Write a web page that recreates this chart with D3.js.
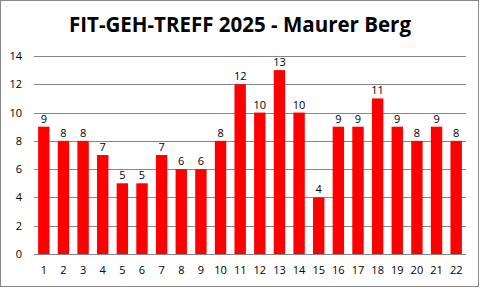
<!DOCTYPE html>
<head>
<meta charset="utf-8">
<style>
body { margin: 0; background: #fff; }
text { font-family: "Open Sans", "Liberation Sans", sans-serif; }
</style>
</head>
<body>
<div id='chart'></div>
<script src="https://cdnjs.cloudflare.com/ajax/libs/d3/7.8.5/d3.min.js"></script>
<script>
var titleText = 'FIT-GEH-TREFF 2025 - Maurer Berg';
var days = [1, 2, 3, 4, 5, 6, 7, 8, 9, 10, 11, 12, 13, 14, 15, 16, 17, 18, 19, 20, 21, 22];
var counts = [9, 8, 8, 7, 5, 5, 7, 6, 6, 8, 12, 10, 13, 10, 4, 9, 9, 11, 9, 8, 9, 8];
var yTicks = [0, 2, 4, 6, 8, 10, 12, 14];

var width = 481, height = 289;
var margin = {top: 56, right: 15, bottom: 35, left: 34};

var svg = d3.select('#chart').append('svg')
  .attr('width', width)
  .attr('height', height);

svg.append('rect')
  .attr('x', 0.5).attr('y', 0.5)
  .attr('width', width - 3).attr('height', height - 3)
  .attr('fill', '#fff')
  .attr('stroke', '#888')
  .attr('stroke-width', 1);

svg.append('text')
  .attr('x', 240)
  .attr('y', 32)
  .attr('text-anchor', 'middle')
  .attr('font-size', 21)
  .attr('font-weight', 'bold')
  .attr('textLength', 342)
  .attr('lengthAdjust', 'spacingAndGlyphs')
  .text(titleText);

var x = d3.scaleBand()
  .domain(days)
  .range([margin.left, width - margin.right])
  .paddingInner(0.42)
  .paddingOuter(0.21);

var y = d3.scaleLinear()
  .domain([0, 14])
  .range([254, margin.top]);

// grid
svg.append('g')
  .selectAll('line')
  .data(yTicks.slice(1))
  .enter().append('line')
  .attr('x1', margin.left)
  .attr('x2', width - margin.right)
  .attr('y1', function(d) { return Math.round(y(d)) + 0.5; })
  .attr('y2', function(d) { return Math.round(y(d)) + 0.5; })
  .attr('stroke', '#868686')
  .attr('stroke-width', 1);

// y axis labels
var yAxis = d3.axisLeft(y).tickValues(yTicks).tickSize(0).tickPadding(12);
var gy = svg.append('g')
  .attr('transform', 'translate(' + margin.left + ',0)')
  .call(yAxis);
gy.select('.domain').remove();
gy.selectAll('text')
  .attr('font-size', 11)
  .attr('fill', '#000')
  .style('font-family', '"Open Sans", "Liberation Sans", sans-serif');

// bars
svg.append('g')
  .selectAll('rect')
  .data(counts)
  .enter().append('rect')
  .attr('x', function(d, i) { return x(days[i]); })
  .attr('y', function(d) { return y(d); })
  .attr('width', x.bandwidth())
  .attr('height', function(d) { return y(0) - y(d); })
  .attr('fill', '#ff0000');

// value labels
svg.append('g')
  .selectAll('text')
  .data(counts)
  .enter().append('text')
  .attr('x', function(d, i) { return x(days[i]) + x.bandwidth() / 2; })
  .attr('y', function(d) { return y(d) - 4; })
  .attr('text-anchor', 'middle')
  .attr('font-size', 11)
  .text(function(d) { return d; });

// x axis
var xAxis = d3.axisBottom(x).tickSize(0).tickPadding(12);
var gx = svg.append('g')
  .attr('transform', 'translate(0,' + (Math.round(y(0)) + 0.5) + ')')
  .call(xAxis);
gx.select('.domain')
  .attr('stroke', '#868686')
  .attr('d', 'M' + margin.left + ',0H' + (width - margin.right));
gx.selectAll('text')
  .attr('font-size', 11)
  .attr('fill', '#000')
  .style('font-family', '"Open Sans", "Liberation Sans", sans-serif');
</script>
</body>
</html>
